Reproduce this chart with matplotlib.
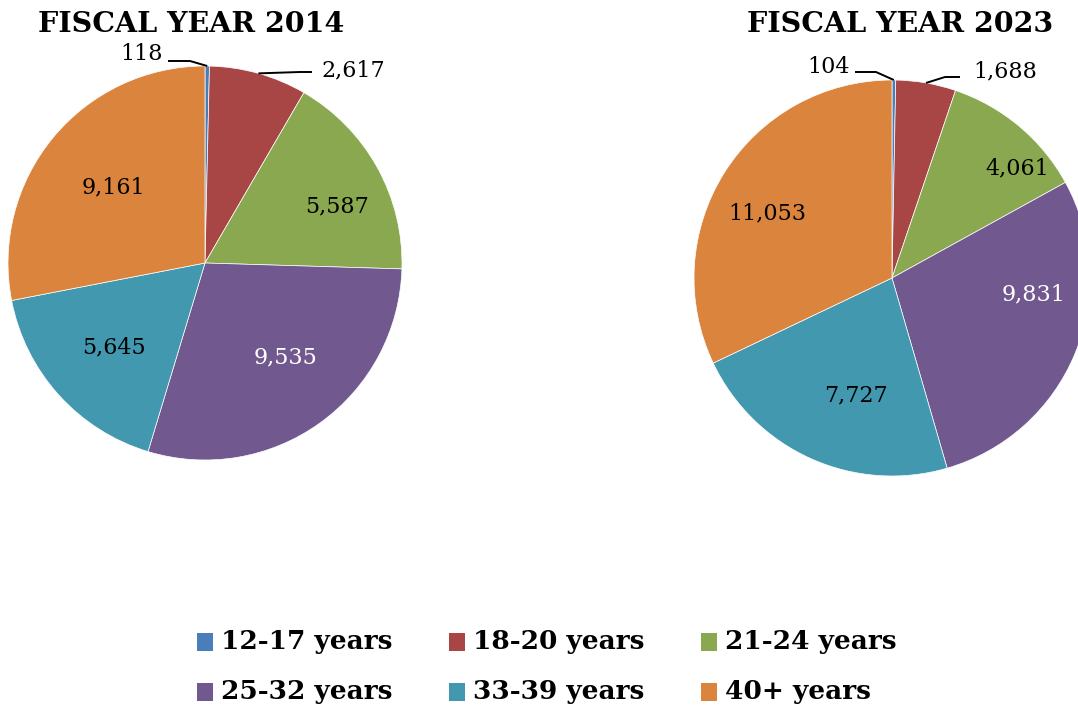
import math
import matplotlib.pyplot as plt
from matplotlib.patches import Rectangle

groups = ['12-17 years', '18-20 years', '21-24 years',
          '25-32 years', '33-39 years', '40+ years']
fy2014 = [118, 2617, 5587, 9535, 5645, 9161]
fy2023 = [104, 1688, 4061, 9831, 7727, 11053]
colors = ['#4A7EBB', '#A84645', '#8AA84F', '#71588F', '#4198AF', '#DB843D']

W, H = 1078, 711
serif = 'DejaVu Serif'

def draw_pie(ax, vals, cx, cy, r, label_dist, label_nudge, label_colors, outside):
    # pixel coordinates with y measured from the top
    ax.pie(vals, colors=colors, startangle=90, counterclock=False,
           center=(cx, H - cy), radius=r, frame=True,
           wedgeprops=dict(edgecolor='white', linewidth=0.5))
    total = float(sum(vals))
    cum = 0.0
    for i, v in enumerate(vals):
        mid = (cum + v / 2) / total * 360.0
        cum += v
        if i in outside:
            # leader line: wedge edge -> elbow -> end, label beside the end
            ex, ey, endx, tx, ty = outside[i]
            a = math.radians(90 - mid)
            px, py = cx + r * math.cos(a), H - cy + r * math.sin(a)
            ax.plot([px, ex, endx], [py, H - ey, H - ey], color='black', lw=1.4,
                    solid_capstyle='butt')
            ha = 'right' if tx < cx else 'left'
            ax.text(tx, H - ty, f'{v:,}', ha=ha, va='center', fontsize=16, family=serif)
            continue
        a = math.radians(90 - mid - label_nudge[i])
        d = label_dist[i] * r
        ax.text(cx + d * math.cos(a), H - cy + d * math.sin(a), f'{v:,}',
                ha='center', va='center', fontsize=16, family=serif,
                color=label_colors[i])

fig = plt.figure(figsize=(W / 100, H / 100), dpi=100)
ax = fig.add_axes([0, 0, 1, 1])

draw_pie(ax, fy2014, 205, 263, 197,
         [0, 0, 0.73, 0.63, 0.63, 0.6], [0, 0, 6, -5, -1, 0],
         ['k', 'k', 'k', 'white', 'k', 'k'],
         {0: (190, 61, 168, 163, 54), 1: (300, 72, 312, 321, 70)})
draw_pie(ax, fy2023, 892, 278, 198,
         [0, 0, 0.84, 0.72, 0.62, 0.71], [0, 0, 9, -16, -7, -5],
         ['k', 'k', 'k', 'white', 'k', 'k'],
         {0: (876, 72, 855, 850, 67), 1: (945, 77, 960, 973, 71)})

ax.text(191, H - 24, 'FISCAL YEAR 2014', ha='center', va='center',
        fontsize=20.5, fontweight='bold', family=serif)
ax.text(900, H - 24, 'FISCAL YEAR 2023', ha='center', va='center',
        fontsize=20.5, fontweight='bold', family=serif)

# legend, three per row
for i, (g, c) in enumerate(zip(groups, colors)):
    x = 197 + 252 * (i % 3)
    y = 642 + 50 * (i // 3)
    ax.add_patch(Rectangle((x, H - y - 9), 16, 18, facecolor=c, edgecolor='none'))
    ax.text(x + 24, H - y + 1, g, ha='left', va='center', fontsize=19, fontweight='bold',
            family=serif)

ax.set_xlim(0, W)
ax.set_ylim(0, H)
ax.set_aspect('equal')
ax.axis('off')

fig.savefig('out.png', dpi=100)
